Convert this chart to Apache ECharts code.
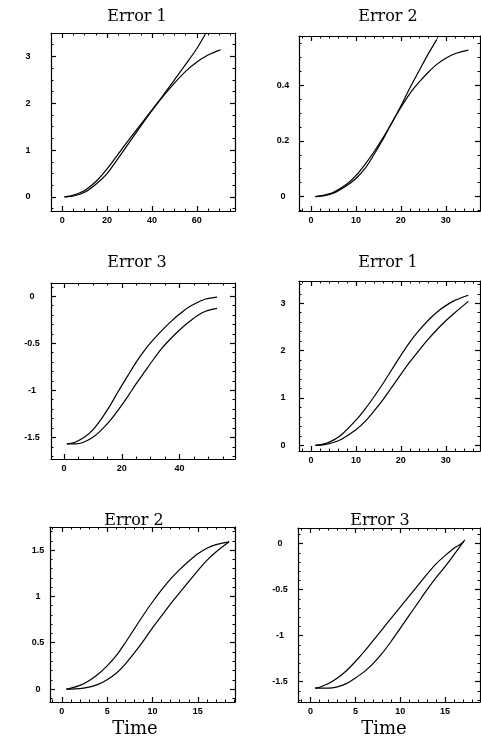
<!DOCTYPE html>
<html>
<head>
<meta charset="utf-8">
<script src="https://cdn.jsdelivr.net/npm/echarts@6/dist/echarts.min.js"></script>
<style>
html,body{margin:0;padding:0;background:#fff;}
#chart{width:481px;height:740px;}
</style>
</head>
<body>
<div id="chart"></div>
<script>
// ---------- Data ----------
// Panel 1: Error 1 (top-left)
var p1TimeA = [1,5,10,15,20,25,30,35,40,45,50,55,60,63.8];
var p1ValA  = [0,0.04,0.14,0.33,0.6,0.92,1.24,1.55,1.86,2.17,2.5,2.83,3.17,3.48];
var p1TimeB = [1,5,10,15,20,25,30,35,40,45,50,55,60,65,70.5];
var p1ValB  = [0,0.02,0.1,0.27,0.5,0.83,1.17,1.51,1.84,2.15,2.43,2.68,2.88,3.03,3.14];
// Panel 2: Error 2 (top-right)
var p2TimeA = [1,3,5,8,10,12,14,16,18,20,22,24,26,28];
var p2ValA  = [0,0.005,0.015,0.045,0.075,0.115,0.16,0.21,0.265,0.325,0.39,0.45,0.51,0.565];
var p2TimeB = [1,3,5,8,10,12,14,16,18,20,22,24,26,28,30,32,35];
var p2ValB  = [0,0.003,0.012,0.04,0.065,0.1,0.15,0.205,0.265,0.32,0.37,0.41,0.445,0.475,0.497,0.513,0.526];
// Panel 3: Error 3 (middle-left)
var p3TimeA = [1,4,7,10,13,16,19,22,25,28,31,34,37,40,43,46,49,53];
var p3ValA  = [-1.57,-1.55,-1.5,-1.42,-1.3,-1.16,-1.0,-0.85,-0.7,-0.57,-0.46,-0.36,-0.27,-0.19,-0.12,-0.07,-0.03,-0.01];
var p3TimeB = [1,4,7,10,13,16,19,22,25,28,31,34,37,40,43,46,49,53];
var p3ValB  = [-1.57,-1.57,-1.55,-1.5,-1.42,-1.32,-1.2,-1.07,-0.93,-0.8,-0.67,-0.55,-0.45,-0.36,-0.28,-0.21,-0.16,-0.13];
// Panel 4: Error 1 (middle-right)
var p4TimeA = [1,3,5,7,10,12,14,16,18,20,22,24,26,28,30,32,35];
var p4ValA  = [0,0.03,0.11,0.24,0.53,0.76,1.02,1.3,1.6,1.9,2.18,2.42,2.63,2.81,2.95,3.06,3.17];
var p4TimeB = [1,3,5,7,10,12,14,16,18,20,22,24,26,28,30,32,35];
var p4ValB  = [0,0.015,0.06,0.14,0.33,0.5,0.72,0.96,1.23,1.5,1.76,2.0,2.23,2.44,2.63,2.8,3.04];
// Panel 5: Error 2 (bottom-left)
var p5TimeA = [0.5,1,2,3,4,5,6,7,8,9,10,11,12,13,14,15,16,17,18.45];
var p5ValA  = [0,0.01,0.04,0.09,0.16,0.25,0.36,0.5,0.65,0.8,0.94,1.07,1.19,1.29,1.38,1.46,1.52,1.56,1.59];
var p5TimeB = [0.5,1,2,3,4,5,6,7,8,9,10,11,12,13,14,15,16,17,18.45];
var p5ValB  = [0,0,0.005,0.02,0.05,0.1,0.17,0.27,0.39,0.52,0.66,0.79,0.92,1.04,1.16,1.28,1.39,1.48,1.59];
// Panel 6: Error 3 (bottom-right)
var p6TimeA = [0.5,1,2,3,4,5,6,7,8,9,10,11,12,13,14,15,16,16.5,17.1];
var p6ValA  = [-1.57,-1.56,-1.52,-1.46,-1.38,-1.28,-1.17,-1.05,-0.93,-0.81,-0.69,-0.57,-0.45,-0.33,-0.22,-0.13,-0.05,-0.02,0.02];
var p6TimeB = [0.5,1,2,3,4,5,6,7,8,9,10,11,12,13,14,15,16,17.2];
var p6ValB  = [-1.57,-1.57,-1.57,-1.555,-1.52,-1.46,-1.39,-1.3,-1.19,-1.06,-0.92,-0.78,-0.64,-0.5,-0.37,-0.25,-0.12,0.04];

// Titles and tick labels
var panelTitles = ['Error 1','Error 2','Error 3','Error 1','Error 2','Error 3'];
var xLabel = 'Time';
var xTicks = [[0,20,40,60],[0,10,20,30],[0,20,40],[0,10,20,30],[0,5,10,15],[0,5,10,15]];
var yTicks = [[0,1,2,3],[0,0.2,0.4],[-1.5,-1,-0.5,0],[0,1,2,3],[0,0.5,1,1.5],[-1.5,-1,-0.5,0]];

// ---------- Layout ----------
var panels = [
  {grid:{left:51,top:33,width:184,height:178}, x:[-5,77], y:[-0.3,3.5], xm:4, ym:4, lm:23, title:[137,17]},
  {grid:{left:299,top:36,width:181,height:175}, x:[-2.65,37.6], y:[-0.052,0.577], xm:5, ym:4, lm:16, title:[388,17]},
  {grid:{left:51,top:283,width:184,height:176}, x:[-4.5,59.2], y:[-1.73,0.14], xm:4, ym:5, lm:19, title:[137,263]},
  {grid:{left:299,top:281,width:181,height:170}, x:[-2.65,37.6], y:[-0.12,3.47], xm:5, ym:5, lm:16, title:[388,263]},
  {grid:{left:50,top:527,width:185,height:175}, x:[-1.3,19.1], y:[-0.14,1.75], xm:5, ym:5, lm:12, title:[134,521]},
  {grid:{left:298,top:528,width:182,height:174}, x:[-1.4,18.9], y:[-1.72,0.17], xm:5, ym:5, lm:18, title:[380,521]}
];
var curves = [
  [[p1TimeA,p1ValA],[p1TimeB,p1ValB]],
  [[p2TimeA,p2ValA],[p2TimeB,p2ValB]],
  [[p3TimeA,p3ValA],[p3TimeB,p3ValB]],
  [[p4TimeA,p4ValA],[p4TimeB,p4ValB]],
  [[p5TimeA,p5ValA],[p5TimeB,p5ValB]],
  [[p6TimeA,p6ValA],[p6TimeB,p6ValB]]
];

function minorVals(ticks, n, lo, hi) {
  var step = ticks[1] - ticks[0];
  var sub = step / n, out = [];
  var start = Math.ceil(lo / sub) * sub;
  for (var v = start; v <= hi + 1e-9; v += sub) {
    var isMajor = Math.abs(v / step - Math.round(v / step)) < 1e-6;
    if (!isMajor) out.push(+v.toFixed(6));
  }
  return out;
}

var grids = [], xAxes = [], yAxes = [], series = [], graphics = [];
var lineCol = '#000';
var labelFont = {fontSize: 9, fontWeight: 'bold', color: '#000', fontFamily: 'Liberation Sans'};

panels.forEach(function (p, i) {
  grids.push(p.grid);
  var xt = xTicks[i], yt = yTicks[i];
  var xmin = minorVals(xt, p.xm, p.x[0], p.x[1]);
  var ymin = minorVals(yt, p.ym, p.y[0], p.y[1]);
  var baseX = {type:'value', gridIndex:i, min:p.x[0], max:p.x[1], splitLine:{show:false}};
  var baseY = {type:'value', gridIndex:i, min:p.y[0], max:p.y[1], splitLine:{show:false}};
  var mainX = xAxes.length;
  xAxes.push(Object.assign({}, baseX, {position:'bottom',
    axisLine:{show:true,onZero:false,lineStyle:{color:lineCol,width:1.2}},
    axisTick:{show:true,inside:true,length:5,customValues:xt,lineStyle:{color:lineCol,width:1.2}},
    axisLabel:Object.assign({show:true,customValues:xt,margin:5}, labelFont)}));
  xAxes.push(Object.assign({}, baseX, {position:'top',
    axisLine:{show:true,onZero:false,lineStyle:{color:lineCol,width:1.2}},
    axisTick:{show:true,inside:true,length:5,customValues:xt,lineStyle:{color:lineCol,width:1.2}},
    axisLabel:{show:false}}));
  ['bottom','top'].forEach(function (pos) {
    xAxes.push(Object.assign({}, baseX, {position:pos,
      axisLine:{show:false,onZero:false},
      axisTick:{show:true,inside:true,length:2.5,customValues:xmin,lineStyle:{color:lineCol,width:1}},
      axisLabel:{show:false}}));
  });
  var mainY = yAxes.length;
  yAxes.push(Object.assign({}, baseY, {position:'left',
    axisLine:{show:true,onZero:false,lineStyle:{color:lineCol,width:1.2}},
    axisTick:{show:true,inside:true,length:5,customValues:yt,lineStyle:{color:lineCol,width:1.2}},
    axisLabel:Object.assign({show:true,customValues:yt,margin:p.lm,align:'center'}, labelFont)}));
  yAxes.push(Object.assign({}, baseY, {position:'right',
    axisLine:{show:true,onZero:false,lineStyle:{color:lineCol,width:1.2}},
    axisTick:{show:true,inside:true,length:5,customValues:yt,lineStyle:{color:lineCol,width:1.2}},
    axisLabel:{show:false}}));
  ['left','right'].forEach(function (pos) {
    yAxes.push(Object.assign({}, baseY, {position:pos,
      axisLine:{show:false,onZero:false},
      axisTick:{show:true,inside:true,length:2.5,customValues:ymin,lineStyle:{color:lineCol,width:1}},
      axisLabel:{show:false}}));
  });
  curves[i].forEach(function (c) {
    var t = c[0], v = c[1];
    series.push({type:'line', xAxisIndex:mainX, yAxisIndex:mainY, showSymbol:false, smooth:0.3,
      silent:true, animation:false, clip:true,
      lineStyle:{color:'#000', width:1.2},
      data: t.map(function (tt, k) { return [tt, v[k]]; })});
  });
  graphics.push({type:'text', x:p.title[0], y:p.title[1],
    style:{text:panelTitles[i], fill:'#000', font:'16px "DejaVu Serif"', textAlign:'center', textVerticalAlign:'middle'}});
});
graphics.push({type:'text', x:135, y:729, style:{text:xLabel, fill:'#000', font:'18px "DejaVu Serif"', textAlign:'center', textVerticalAlign:'middle'}});
graphics.push({type:'text', x:384, y:729, style:{text:xLabel, fill:'#000', font:'18px "DejaVu Serif"', textAlign:'center', textVerticalAlign:'middle'}});

var chart = echarts.init(document.getElementById('chart'), null, {renderer:'canvas'});
chart.setOption({
  animation:false,
  backgroundColor:'#fff',
  grid:grids, xAxis:xAxes, yAxis:yAxes, series:series, graphic:graphics
});
</script>
</body>
</html>
